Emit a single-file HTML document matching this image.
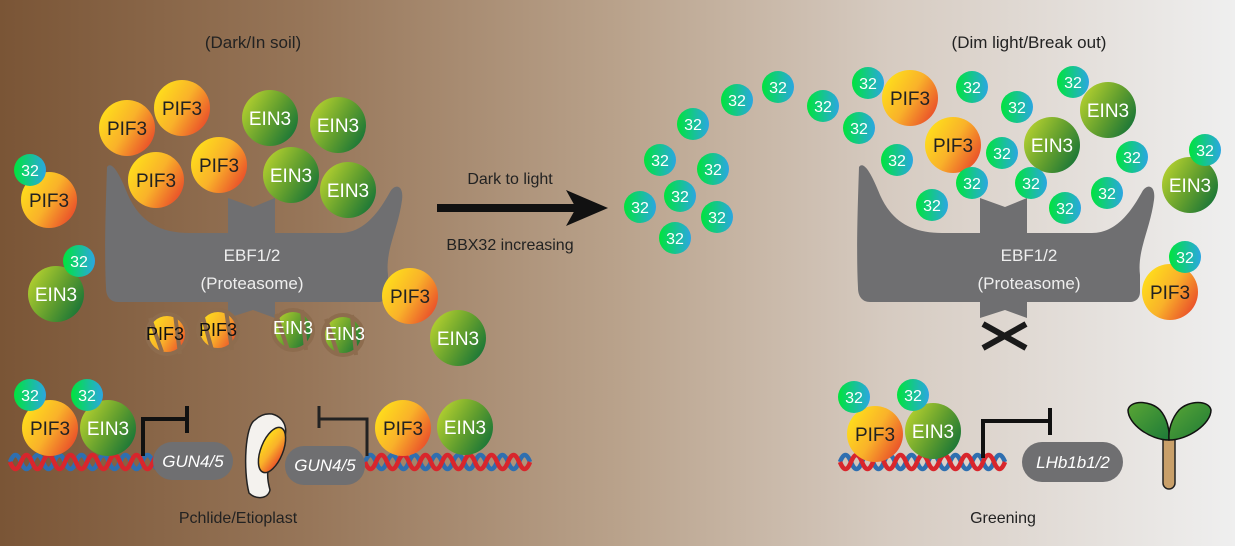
<!DOCTYPE html>
<html><head><meta charset="utf-8"><style>
html,body{margin:0;padding:0;width:1235px;height:546px;overflow:hidden}
svg{display:block;font-family:"Liberation Sans",Arial,sans-serif}
</style></head><body>
<svg width="1235" height="546" viewBox="0 0 1235 546" xmlns="http://www.w3.org/2000/svg">
<defs>
<linearGradient id="bg" x1="0" x2="1" y1="0" y2="0">
<stop offset="0" stop-color="#7a5536"/>
<stop offset="0.25" stop-color="#977659"/>
<stop offset="0.5" stop-color="#b9a28b"/>
<stop offset="0.72" stop-color="#d6cbc1"/>
<stop offset="1" stop-color="#efefef"/>
</linearGradient>
<linearGradient id="pif" x1="0" y1="0.2" x2="1" y2="0.8">
<stop offset="0" stop-color="#ffe21a"/><stop offset="0.5" stop-color="#f9b12a"/><stop offset="1" stop-color="#e8452a"/>
</linearGradient>
<linearGradient id="ein" x1="0" y1="0.2" x2="1" y2="0.8">
<stop offset="0" stop-color="#b7d22f"/><stop offset="0.55" stop-color="#5e9c2e"/><stop offset="1" stop-color="#137238"/>
</linearGradient>
<linearGradient id="b32" x1="0" y1="0" x2="1" y2="0">
<stop offset="0" stop-color="#00e43c"/><stop offset="1" stop-color="#2ba6e2"/>
</linearGradient>
<linearGradient id="leaf" x1="0" y1="0" x2="1" y2="1">
<stop offset="0" stop-color="#5aa634"/><stop offset="1" stop-color="#1d7a38"/>
</linearGradient>
<g id="P"><circle r="28" fill="url(#pif)"/><text y="7" text-anchor="middle" font-size="19" fill="#222">PIF3</text></g>
<g id="E"><circle r="28" fill="url(#ein)"/><text y="7" text-anchor="middle" font-size="19" fill="#fff">EIN3</text></g>
<g id="T"><circle r="16" fill="url(#b32)"/><text y="6" text-anchor="middle" font-size="16" fill="#fff">32</text></g>
<path id="prot" fill="#6f6f71" d="M107,167 C112,160 120,175 128,195 C140,222 160,233 190,233 L228,233 L228,198 L253,207 L275,198 L275,233 L340,233 C365,233 380,210 390,192 C395,183 404,185 402,200 C398,230 385,250 388,275 L388,292 C388,298 384,302 378,302 L275,302 L275,318 L253,310 L228,318 L228,302 L118,302 C110,302 106,296 106,288 C104,250 106,200 107,167 Z"/>
<g id="dna" fill="none" stroke-width="4.5">
<path stroke="#2f6fb0" d="M0,462 q5.5,-14 11,0 t11,0 t11,0 t11,0 t11,0 t11,0 t11,0 t11,0 t11,0 t11,0 t11,0 t11,0 t11,0 t11,0 t11,0"/>
<path stroke="#d8262c" d="M0,462 q5.5,14 11,0 t11,0 t11,0 t11,0 t11,0 t11,0 t11,0 t11,0 t11,0 t11,0 t11,0 t11,0 t11,0 t11,0 t11,0"/>
</g>
</defs>
<rect width="1235" height="546" fill="url(#bg)"/>

<text x="253" y="48" text-anchor="middle" font-size="17" fill="#222">(Dark/In soil)</text>
<text x="1029" y="48" text-anchor="middle" font-size="17" fill="#222">(Dim light/Break out)</text>

<use href="#prot"/>
<text x="252" y="261" text-anchor="middle" font-size="17" fill="#eee">EBF1/2</text>
<text x="252" y="289" text-anchor="middle" font-size="17" fill="#eee">(Proteasome)</text>

<use href="#P" x="127" y="128"/><use href="#P" x="182" y="108"/>
<use href="#P" x="156" y="180"/><use href="#P" x="219" y="165"/>
<use href="#E" x="270" y="118"/><use href="#E" x="338" y="125"/>
<use href="#E" x="291" y="175"/><use href="#E" x="348" y="190"/>
<use href="#P" x="49" y="200"/><use href="#T" x="30" y="170"/>
<use href="#E" x="56" y="294"/><use href="#T" x="79" y="261"/>
<use href="#P" x="410" y="296"/><use href="#E" x="458" y="338"/>

<g stroke="#8d6c4e" stroke-width="4">
<circle cx="167" cy="334" r="20" fill="url(#pif)"/><line x1="150" y1="318" x2="162" y2="352"/><line x1="175" y1="314" x2="180" y2="354"/>
<circle cx="218" cy="330" r="20" fill="url(#pif)"/><line x1="202" y1="314" x2="212" y2="350"/><line x1="226" y1="310" x2="232" y2="350"/>
<circle cx="293" cy="330" r="20" fill="url(#ein)"/><line x1="276" y1="314" x2="288" y2="350"/><line x1="302" y1="310" x2="306" y2="350"/>
<circle cx="343" cy="335" r="20" fill="url(#ein)"/><line x1="326" y1="319" x2="338" y2="355"/><line x1="352" y1="315" x2="356" y2="355"/>
</g>
<text x="165" y="340" text-anchor="middle" font-size="18" fill="#111">PIF3</text>
<text x="218" y="336" text-anchor="middle" font-size="18" fill="#111">PIF3</text>
<text x="293" y="334" text-anchor="middle" font-size="18" fill="#fff">EIN3</text>
<text x="345" y="340" text-anchor="middle" font-size="18" fill="#fff">EIN3</text>

<line x1="437" y1="208" x2="580" y2="208" stroke="#111" stroke-width="8"/>
<polygon points="566,190 608,208 566,226 576,208" fill="#111"/>
<text x="510" y="184" text-anchor="middle" font-size="16" fill="#222">Dark to light</text>
<text x="510" y="250" text-anchor="middle" font-size="16" fill="#222">BBX32 increasing</text>

<use href="#T" x="737" y="100"/><use href="#T" x="778" y="87"/><use href="#T" x="823" y="106"/>
<use href="#T" x="693" y="124"/><use href="#T" x="660" y="160"/><use href="#T" x="713" y="169"/>
<use href="#T" x="680" y="196"/><use href="#T" x="640" y="207"/><use href="#T" x="717" y="217"/>
<use href="#T" x="675" y="238"/>

<use href="#prot" x="752"/>
<text x="1029" y="261" text-anchor="middle" font-size="17" fill="#eee">EBF1/2</text>
<text x="1029" y="289" text-anchor="middle" font-size="17" fill="#eee">(Proteasome)</text>
<g stroke="#1a1a1a" stroke-width="6"><line x1="983" y1="324" x2="1026" y2="348"/><line x1="983" y1="348" x2="1026" y2="324"/></g>

<use href="#P" x="910" y="98"/><use href="#T" x="868" y="83"/>
<use href="#T" x="972" y="87"/><use href="#T" x="1017" y="107"/>
<use href="#E" x="1108" y="110"/><use href="#T" x="1073" y="82"/>
<use href="#T" x="859" y="128"/>
<use href="#P" x="953" y="145"/><use href="#T" x="897" y="160"/>
<use href="#E" x="1052" y="145"/><use href="#T" x="1002" y="153"/>
<use href="#T" x="1132" y="157"/>
<use href="#T" x="972" y="183"/><use href="#T" x="1031" y="183"/><use href="#T" x="1107" y="193"/>
<use href="#T" x="932" y="205"/><use href="#T" x="1065" y="208"/>
<use href="#E" x="1190" y="185"/><use href="#T" x="1205" y="150"/>
<use href="#P" x="1170" y="292"/><use href="#T" x="1185" y="257"/>

<use href="#dna" x="10"/>
<use href="#dna" x="365"/>
<rect x="153" y="442" width="80" height="38" rx="19" fill="#6f6f71"/>
<rect x="285" y="446" width="80" height="39" rx="19" fill="#6f6f71"/>
<text x="193" y="467" text-anchor="middle" font-size="17" font-style="italic" fill="#fff">GUN4/5</text>
<text x="325" y="471" text-anchor="middle" font-size="17" font-style="italic" fill="#fff">GUN4/5</text>
<use href="#P" x="50" y="428"/><use href="#E" x="108" y="428"/>
<use href="#T" x="30" y="395"/><use href="#T" x="87" y="395"/>
<use href="#P" x="403" y="428"/><use href="#E" x="465" y="427"/>
<path d="M143,456 V419 H187 M187,406 V433" fill="none" stroke="#111" stroke-width="4"/>
<path d="M367,456 V419 H319 M319,406 V428" fill="none" stroke="#222" stroke-width="3"/>
<path d="M255,420 C245,425 243,470 249,493 C256,500 268,499 270,490 C265,472 268,462 278,450 C290,436 288,418 272,414 C264,413 259,416 255,420 Z" fill="#f4f2ee" stroke="#222" stroke-width="1.5"/>
<ellipse cx="272" cy="450" rx="11" ry="24" transform="rotate(22 272 450)" fill="url(#pif)" stroke="#222" stroke-width="1.5"/>
<text x="238" y="523" text-anchor="middle" font-size="16" fill="#222">Pchlide/Etioplast</text>

<use href="#dna" x="840"/>
<rect x="1022" y="442" width="101" height="40" rx="20" fill="#6f6f71"/>
<text x="1073" y="468" text-anchor="middle" font-size="17" font-style="italic" fill="#fff">LHb1b1/2</text>
<use href="#P" x="875" y="434"/><use href="#E" x="933" y="431"/>
<use href="#T" x="854" y="397"/><use href="#T" x="913" y="395"/>
<path d="M983,458 V421 H1050 M1050,408 V435" fill="none" stroke="#111" stroke-width="4"/>
<rect x="1163" y="430" width="12" height="59" rx="6" fill="#c9a06a" stroke="#222" stroke-width="1.5"/>
<path d="M1169,440 C1150,440 1128,424 1128,410 C1130,400 1150,400 1160,410 C1167,418 1170,430 1169,440 Z" fill="url(#leaf)" stroke="#111" stroke-width="1.5"/>
<path d="M1169,440 C1188,440 1211,424 1211,410 C1209,400 1189,400 1179,410 C1172,418 1168,430 1169,440 Z" fill="url(#leaf)" stroke="#111" stroke-width="1.5"/>
<text x="1003" y="523" text-anchor="middle" font-size="16" fill="#222">Greening</text>
</svg>
</body></html>
